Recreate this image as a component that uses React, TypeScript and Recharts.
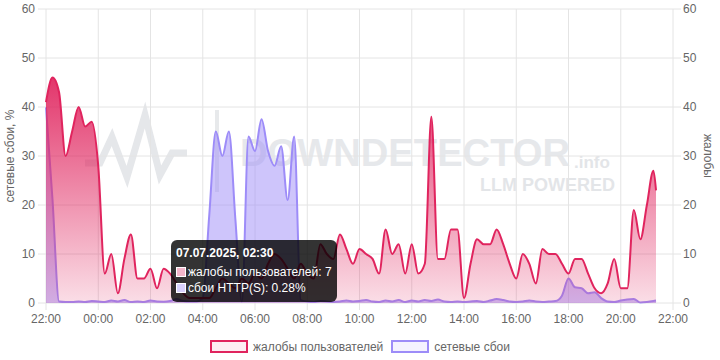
import React from 'react';
import {
  ComposedChart,
  Area,
  XAxis,
  YAxis,
  CartesianGrid,
  Tooltip,
  Legend,
} from 'recharts';

// 15-minute samples starting 06.07.2025 22:00
const STEP_HOURS = 0.25;
const START_HOUR = 22;
const LAST_SAMPLE_HOURS = 23.35; // last sample is a partial interval (~21:21)

// жалобы пользователей (right axis)
const reports = [
  41, 46, 43, 30, 35, 40, 36, 37, 28, 6,
  10, 2, 9, 14, 5, 5, 7, 3, 7, 6,
  4, 2, 1, 1, 1, 1, 3, 5, 4, 3,
  5, 4, 6, 5, 8, 10, 9, 7, 5, 8,
  6, 5, 12, 10, 9, 14, 11, 8, 11, 10,
  9, 6, 15, 10, 12, 6, 12, 6, 8, 38,
  9, 9, 15, 15, 1, 8, 13, 12, 12, 15,
  12, 8, 5, 10, 8, 4, 11, 10, 10, 8,
  6, 9, 9, 6, 3, 2, 4, 9, 3, 3,
  19, 13, 20, 27, 23,
];

// сбои HTTP(S), % (left axis)
const httpFailures = [
  40, 21, 0.3, 0.2, 0.2, 0.3, 0.2, 0.4, 0.3, 0.2,
  0.5, 0.3, 0.6, 0.2, 0.3, 0.2, 0.5, 0.3, 0.28, 0.4,
  0.8, 0.4, 0.3, 0.3, 1, 18, 35, 30, 35, 17,
  0.3, 34, 31, 37.5, 31, 28, 32, 21, 34, 0.6,
  0.3, 0.2, 0.4, 0.3, 0.2, 0.3, 0.5, 0.3, 0.4, 0.6,
  0.3, 0.2, 0.5, 0.3, 0.6, 0.2, 0.5, 0.3, 0.6, 0.4,
  0.7, 0.3, 0.2, 0.3, 0.2, 0.3, 0.4, 0.2, 0.5, 0.8,
  0.6, 0.3, 0.2, 0.3, 0.5, 0.3, 0.2, 0.3, 0.4, 1.5,
  5, 3.2, 3, 2, 2.2, 1, 0.3, 0.2, 0.5, 0.7,
  0.8, 0.1, 0.2, 0.4, 0.5,
];

const xTicks = [0, 2, 4, 6, 8, 10, 12, 14, 16, 18, 20, 22, 24];
const yTicks = [0, 10, 20, 30, 40, 50, 60];

const FONT = '"Liberation Sans", Arial, sans-serif';
const GRID = '#e4e4e4';
const PINK = '#e0245e';
const PURPLE = '#9d8cf8';

const data = reports.map((r, i) => ({
  t: i === reports.length - 1 ? LAST_SAMPLE_HOURS : i * STEP_HOURS,
  reports: r,
  http: httpFailures[i],
}));

const pad = (n: number) => String(n).padStart(2, '0');

const formatTick = (v: number) => `${pad((START_HOUR + v) % 24)}:00`;

const formatStamp = (t: number) => {
  const total = Math.round((START_HOUR + t) * 60);
  const h = Math.floor(total / 60);
  const day = h >= 24 ? '07.07.2025' : '06.07.2025';
  return `${day}, ${pad(h % 24)}:${pad(total % 60)}`;
};

const CustomTooltip = ({ active, payload, label }: any) => {
  if (!active || !payload || !payload.length) return null;
  const rep = payload.find((p: any) => p.dataKey === 'reports');
  const http = payload.find((p: any) => p.dataKey === 'http');
  const row: React.CSSProperties = {
    lineHeight: '16px',
    display: 'flex',
    alignItems: 'center',
    whiteSpace: 'nowrap',
  };
  return (
    <div
      style={{
        display: 'inline-block',
        background: 'rgba(0,0,0,0.8)',
        borderRadius: 6,
        padding: '6px 5px',
        color: '#fff',
        fontFamily: FONT,
        fontSize: 12,
        whiteSpace: 'nowrap',
      }}
    >
      <div style={{ fontWeight: 'bold', lineHeight: '14px', marginBottom: 4 }}>
        {formatStamp(label)}
      </div>
      <div style={row}>
        <span style={{ width: 10, height: 10, flex: 'none', background: '#f3b6ca', border: '1px solid #fff', marginRight: 2, boxSizing: 'border-box' }} />
        жалобы пользователей: {rep ? rep.value : ''}
      </div>
      <div style={row}>
        <span style={{ width: 10, height: 10, flex: 'none', background: '#d9d2fd', border: '1px solid #fff', marginRight: 2, boxSizing: 'border-box' }} />
        сбои HTTP(S): {http ? http.value : ''}%
      </div>
    </div>
  );
};

const legendItems = [
  { name: 'жалобы пользователей', border: PINK, fill: '#fdeef3' },
  { name: 'сетевые сбои', border: PURPLE, fill: '#f4f2ff' },
];

const renderLegend = () => (
  <div
    style={{
      display: 'flex',
      justifyContent: 'center',
      alignItems: 'center',
      height: 27,
      fontFamily: FONT,
      fontSize: 12,
      color: '#666',
    }}
  >
    {legendItems.map((item) => (
      <div key={item.name} style={{ display: 'flex', alignItems: 'center', margin: '0 4px' }}>
        <span
          style={{
            width: 38,
            height: 13,
            boxSizing: 'border-box',
            border: `2px solid ${item.border}`,
            background: item.fill,
            marginRight: 5,
          }}
        />
        {item.name}
      </div>
    ))}
  </div>
);

// faint brand watermark painted behind the plot
const Watermark = () => (
  <svg width={720} height={360} style={{ position: 'absolute', left: 0, top: 0 }}>
    <polyline
      points="85,163 100,163 112,137 127,177 145,115 160,175 172,153 187,153"
      fill="none"
      stroke="#e5e7ea"
      strokeWidth={7}
    />
    <rect x={215} y={110} width={4} height={82} fill="#e7e9eb" />
    <text
      x={240}
      y={166}
      fontFamily={FONT}
      fontWeight="bold"
      fontSize={38}
      fill="#e6e8eb"
      textLength={330}
      lengthAdjust="spacingAndGlyphs"
    >
      DOWNDETECTOR
    </text>
    <text x={574} y={168} fontFamily={FONT} fontWeight="bold" fontSize={17} fill="#e3e5e8">
      .info
    </text>
    <text x={615} y={191} textAnchor="end" fontFamily={FONT} fontWeight="bold" fontSize={18} fill="#e3e5e8">
      LLM POWERED
    </text>
  </svg>
);

export default function App() {
  return (
    <div style={{ position: 'absolute', left: 0, top: 0, width: 720, height: 360, background: '#fff' }}>
      <Watermark />
      <div style={{ position: 'absolute', left: 0, top: 0 }}>
        <ComposedChart
          width={720}
          height={360}
          data={data}
          margin={{ top: 9, right: 0, left: 0, bottom: 0 }}
        >
          <defs>
            <linearGradient id="reportsFill" x1="0" y1="0" x2="0" y2="1">
              <stop offset="0%" stopColor={PINK} stopOpacity={0.92} />
              <stop offset="100%" stopColor={PINK} stopOpacity={0.15} />
            </linearGradient>
          </defs>
          <CartesianGrid yAxisId="left" stroke={GRID} />
          <XAxis
            dataKey="t"
            type="number"
            domain={[0, 24]}
            ticks={xTicks}
            tickFormatter={formatTick}
            axisLine={false}
            tickLine={{ stroke: GRID }}
            tickSize={7}
            tickMargin={4}
            height={30}
            tick={{ fill: '#666', fontSize: 12, fontFamily: FONT }}
            interval={0}
          />
          <YAxis
            yAxisId="left"
            orientation="left"
            domain={[0, 60]}
            ticks={yTicks}
            width={46}
            axisLine={false}
            tickLine={{ stroke: GRID }}
            tickSize={8}
            tickMargin={3}
            tick={{ fill: '#666', fontSize: 12, fontFamily: FONT }}
            label={{
              value: 'сетевые сбои, %',
              angle: -90,
              position: 'insideLeft',
              offset: 10,
              style: { textAnchor: 'middle', fill: '#666', fontSize: 12, fontFamily: FONT },
            }}
          />
          <YAxis
            yAxisId="right"
            orientation="right"
            domain={[0, 60]}
            ticks={yTicks}
            width={47}
            axisLine={false}
            tickLine={{ stroke: GRID }}
            tickSize={8}
            tickMargin={2}
            tick={{ fill: '#666', fontSize: 12, fontFamily: FONT }}
            label={{
              value: 'жалобы',
              angle: 90,
              position: 'insideRight',
              offset: 12,
              style: { textAnchor: 'middle', fill: '#666', fontSize: 12, fontFamily: FONT },
            }}
          />
          <Tooltip
            content={<CustomTooltip />}
            defaultIndex={18}
            position={{ x: 171, y: 240 }}
            cursor={false}
            isAnimationActive={false}
            wrapperStyle={{ outline: 'none' }}
          />
          <Legend verticalAlign="bottom" height={27} content={renderLegend} />
          <Area
            yAxisId="left"
            type="monotone"
            dataKey="http"
            name="сетевые сбои"
            stroke={PURPLE}
            strokeWidth={2}
            fill={PURPLE}
            fillOpacity={0.5}
            dot={false}
            activeDot={false}
            isAnimationActive={false}
          />
          <Area
            yAxisId="right"
            type="monotone"
            dataKey="reports"
            name="жалобы пользователей"
            stroke={PINK}
            strokeWidth={2}
            fill="url(#reportsFill)"
            fillOpacity={1}
            dot={false}
            activeDot={false}
            isAnimationActive={false}
          />
        </ComposedChart>
      </div>
    </div>
  );
}
